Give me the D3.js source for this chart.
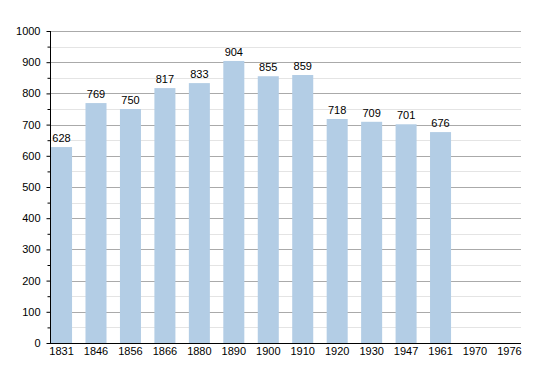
<!DOCTYPE html>
<html>
<head>
<meta charset="utf-8">
<script src="https://cdn.jsdelivr.net/npm/d3@7"></script>
<style>
  body { margin: 0; background: #fff; }
  svg text { font-family: "Liberation Sans", Arial, sans-serif; font-size: 11px; fill: #000; }
</style>
</head>
<body>
<svg width="550" height="373"></svg>
<script>
// Population by census year
var years = ["1831", "1846", "1856", "1866", "1880", "1890", "1900", "1910", "1920", "1930", "1947", "1961", "1970", "1976"];
var population = [628, 769, 750, 817, 833, 904, 855, 859, 718, 709, 701, 676, null, null];
var majorTicks = [0, 100, 200, 300, 400, 500, 600, 700, 800, 900, 1000];
var minorTicks = [50, 150, 250, 350, 450, 550, 650, 750, 850, 950];

var svg = d3.select("svg");
var plotLeft = 50, plotRight = 521, plotTop = 31, plotBottom = 343;

var x = d3.scaleBand()
  .domain(years)
  .range([plotLeft, plotRight])
  .paddingInner(0.39)
  .paddingOuter(0.03);

var y = d3.scaleLinear()
  .domain([0, 1000])
  .range([plotBottom, plotTop]);

// Grid lines (minor first, then major)
svg.selectAll(".minor-grid")
  .data(minorTicks)
  .enter().append("line")
  .attr("class", "minor-grid")
  .attr("x1", plotLeft).attr("x2", plotRight)
  .attr("y1", function(d) { return Math.round(y(d)) + 0.5; })
  .attr("y2", function(d) { return Math.round(y(d)) + 0.5; })
  .attr("stroke", "#e4e4e4");

svg.selectAll(".major-grid")
  .data(majorTicks.slice(1))
  .enter().append("line")
  .attr("class", "major-grid")
  .attr("x1", plotLeft).attr("x2", plotRight)
  .attr("y1", function(d) { return Math.round(y(d)) + 0.5; })
  .attr("y2", function(d) { return Math.round(y(d)) + 0.5; })
  .attr("stroke", "#aaaaaa");

// Bars
var data = years.map(function(d, i) { return { year: d, value: population[i] }; })
  .filter(function(d) { return d.value != null; });

svg.selectAll(".bar")
  .data(data)
  .enter().append("rect")
  .attr("class", "bar")
  .attr("x", function(d) { return x(d.year); })
  .attr("width", x.bandwidth())
  .attr("y", function(d) { return y(d.value); })
  .attr("height", function(d) { return y(0) - y(d.value); })
  .attr("fill", "#b3cde5");

// Value labels
svg.selectAll(".value")
  .data(data)
  .enter().append("text")
  .attr("class", "value")
  .attr("x", function(d) { return x(d.year) + x.bandwidth() / 2; })
  .attr("y", function(d) { return y(d.value) - 5; })
  .attr("text-anchor", "middle")
  .text(function(d) { return d.value; });

// Y axis
var yAxis = d3.axisLeft(y).tickValues(majorTicks).tickFormat(d3.format("d")).tickSize(4).tickPadding(6);
var gy = svg.append("g")
  .attr("transform", "translate(" + (plotLeft + 0.5) + ",0)")
  .call(yAxis);
gy.select(".domain").attr("stroke", "#000").attr("d", "M0," + plotTop + "V" + plotBottom);
gy.selectAll(".tick line").attr("stroke", "#000");
gy.selectAll(".tick text").attr("font-size", 11).attr("font-family", "Liberation Sans, Arial, sans-serif");

var gyMinor = svg.append("g")
  .attr("transform", "translate(" + (plotLeft + 0.5) + ",0)")
  .call(d3.axisLeft(y).tickValues(minorTicks).tickSize(3).tickFormat(""));
gyMinor.select(".domain").remove();
gyMinor.selectAll(".tick line").attr("stroke", "#000");

// X axis
var xAxis = d3.axisBottom(x).tickSize(0).tickPadding(4);
var gx = svg.append("g")
  .attr("transform", "translate(0," + (plotBottom + 0.5) + ")")
  .call(xAxis);
gx.select(".domain").attr("stroke", "#000").attr("d", "M" + plotLeft + ",0H" + plotRight);
gx.selectAll(".tick text").attr("font-size", 11).attr("font-family", "Liberation Sans, Arial, sans-serif");
</script>
</body>
</html>
